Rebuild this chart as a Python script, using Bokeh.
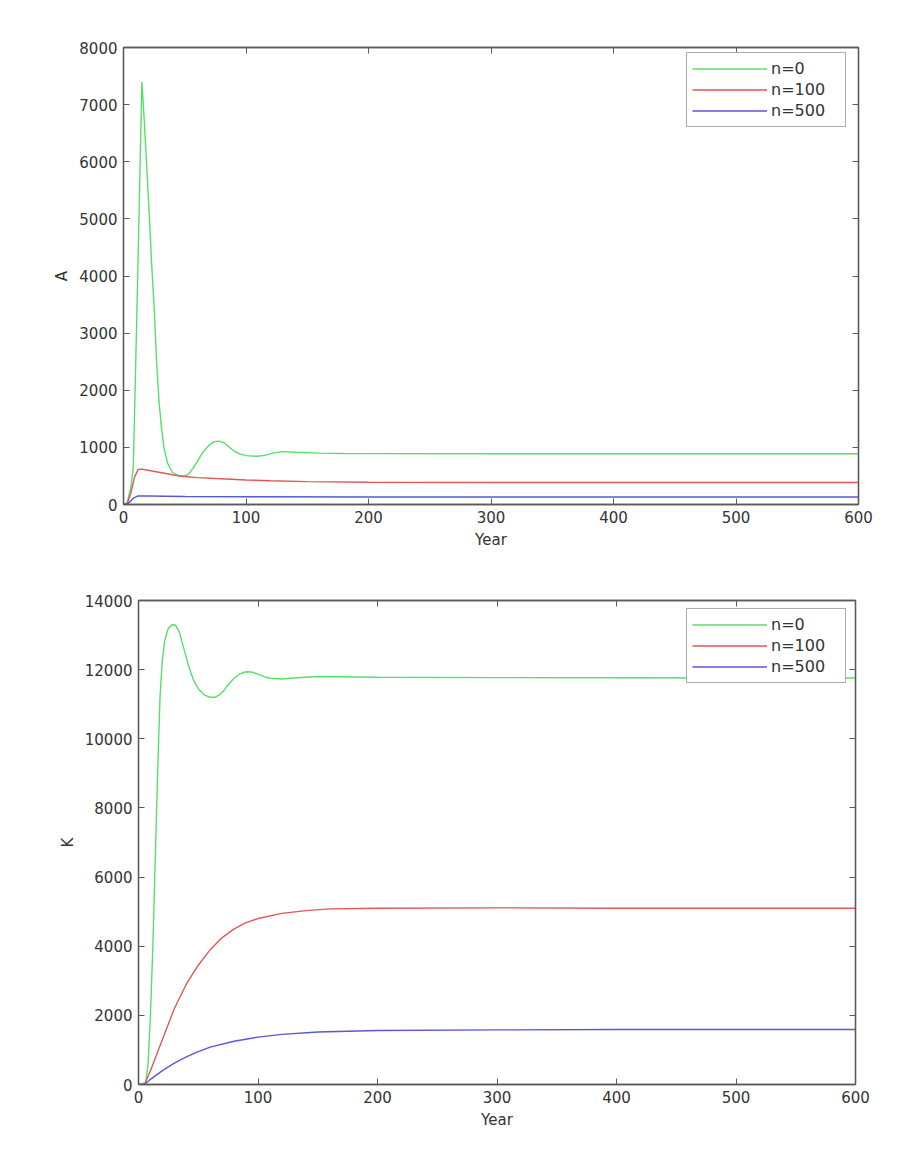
from bokeh.plotting import figure
from bokeh.models import Range1d, LinearAxis, FixedTicker, Legend, LegendItem
from bokeh.embed import file_html
from bokeh.resources import INLINE

# ---------------- data ----------------
series_labels = ["n=0", "n=100", "n=500"]

# Panel 1: A
a_n0_year = [0, 3, 6, 8, 10, 12, 15, 17, 19, 21, 23, 25, 27, 29, 31, 33, 36, 40, 45, 49, 53,
             57, 61, 65, 70, 74, 78, 82, 86, 90, 95, 100, 105, 109, 115, 122, 129, 140,
             160, 180, 200, 300, 400, 500, 600]
a_n0_val = [0, 30, 300, 650, 2500, 4400, 7400, 6700, 5900, 5100, 4200, 3450, 2500, 1800, 1350,
            1000, 720, 560, 495, 490, 530, 640, 780, 920, 1040, 1100, 1110, 1080, 1010, 940,
            885, 855, 848, 845, 860, 900, 925, 915, 900, 893, 890, 888, 888, 888, 888]

a_n100_year = [0, 3, 6, 9, 12, 15, 20, 30, 40, 50, 60, 80, 100, 120, 150, 200, 300, 400, 600]
a_n100_val = [0, 10, 200, 480, 615, 620, 600, 560, 520, 490, 470, 450, 430, 415, 400, 390,
              385, 385, 385]

a_n500_year = [0, 4, 8, 12, 20, 50, 100, 200, 600]
a_n500_val = [0, 20, 110, 150, 148, 140, 135, 130, 130]

# Panel 2: K
k_n0_year = [0, 6, 8, 10, 12, 14, 16, 18, 20, 22, 25, 28, 31, 34, 38, 42, 46, 50, 55, 60, 64,
             68, 72, 76, 80, 85, 90, 95, 100, 105, 110, 120, 130, 150, 200, 300, 400, 500, 600]
k_n0_val = [0, 50, 600, 2000, 4000, 6500, 9000, 11200, 12300, 12850, 13200, 13300, 13290,
            13100, 12600, 12100, 11700, 11450, 11270, 11200, 11200, 11280, 11420, 11600,
            11750, 11880, 11940, 11930, 11870, 11800, 11750, 11730, 11760, 11800, 11780,
            11770, 11765, 11760, 11760]

k_n100_year = [0, 5, 10, 20, 30, 40, 50, 60, 70, 80, 90, 100, 120, 140, 160, 200, 300, 400, 600]
k_n100_val = [0, 0, 400, 1300, 2200, 2900, 3450, 3900, 4250, 4500, 4680, 4800, 4950, 5030,
              5080, 5100, 5110, 5100, 5100]

k_n500_year = [0, 5, 10, 20, 30, 40, 50, 60, 80, 100, 120, 150, 200, 300, 400, 600]
k_n500_val = [0, 0, 150, 400, 620, 800, 950, 1080, 1250, 1370, 1450, 1520, 1560, 1580, 1590,
              1590]

x_ticks = [0, 100, 200, 300, 400, 500, 600]
a_ticks = [0, 1000, 2000, 3000, 4000, 5000, 6000, 7000, 8000]
k_ticks = [0, 2000, 4000, 6000, 8000, 10000, 12000, 14000]

colors = ["#55e06a", "#e05858", "#5858d8"]
FONT = "DejaVu Sans"
AX = "#5a5a5a"
TXT = "#333333"


def style_axis(ax, ticks, show_labels=True):
    ax.ticker = FixedTicker(ticks=ticks)
    ax.axis_line_color = AX
    ax.axis_line_width = 1.3
    ax.major_tick_line_color = AX
    ax.major_tick_in = 6
    ax.major_tick_out = 0
    ax.minor_tick_line_color = None
    ax.major_label_text_font = FONT
    ax.major_label_text_font_size = "15px"
    ax.major_label_text_color = TXT
    ax.major_label_standoff = 6
    ax.axis_label_text_font = FONT
    ax.axis_label_text_font_size = "15px"
    ax.axis_label_text_font_style = "normal"
    ax.axis_label_text_color = TXT
    if not show_labels:
        ax.major_label_text_color = None
        ax.major_label_standoff = 0


def make_panel(series, yticks, ymax, ylabel, height, b_top, b_bottom, b_left, b_right, leg_loc):
    p = figure(width=911, height=height, output_backend="svg", toolbar_location=None,
               x_range=Range1d(0, 600), y_range=Range1d(0, ymax),
               min_border_top=b_top, min_border_bottom=b_bottom,
               min_border_left=b_left, min_border_right=b_right)
    p.xgrid.visible = False
    p.ygrid.visible = False
    p.outline_line_color = AX
    p.outline_line_width = 1.3
    p.background_fill_color = "white"
    p.border_fill_color = "white"
    style_axis(p.xaxis[0], x_ticks)
    style_axis(p.yaxis[0], yticks)
    p.xaxis[0].axis_label = "Year"
    p.yaxis[0].axis_label = ylabel
    top = LinearAxis()
    style_axis(top, x_ticks, show_labels=False)
    right = LinearAxis()
    style_axis(right, yticks, show_labels=False)
    p.add_layout(top, "above")
    p.add_layout(right, "right")

    items = []
    for (xs, ys), c, lab in zip(series, colors, series_labels):
        r = p.line(xs, ys, line_color=c, line_width=1.4)
        items.append(LegendItem(label=lab, renderers=[r]))
    leg = Legend(items=items, location=leg_loc)
    leg.margin = 0
    leg.padding = 5
    leg.spacing = 0
    leg.glyph_width = 75
    leg.glyph_height = 21
    leg.label_height = 21
    leg.label_width = 69
    leg.label_standoff = 4
    leg.label_text_font = FONT
    leg.label_text_font_size = "16px"
    leg.label_text_color = TXT
    leg.border_line_color = AX
    leg.border_line_width = 1.2
    leg.background_fill_color = "white"
    leg.background_fill_alpha = 1.0
    p.add_layout(leg, "center")
    return p


p1 = make_panel([(a_n0_year, a_n0_val), (a_n100_year, a_n100_val), (a_n500_year, a_n500_val)],
                a_ticks, 8000, "A", 560, 47, 56, 123, 53, (563, 377))
p2 = make_panel([(k_n0_year, k_n0_val), (k_n100_year, k_n100_val), (k_n500_year, k_n500_val)],
                k_ticks, 14000, "K", 593, 40, 69, 138, 56, (548, 401))

open("out.html", "w").write(file_html([p1, p2], INLINE))
